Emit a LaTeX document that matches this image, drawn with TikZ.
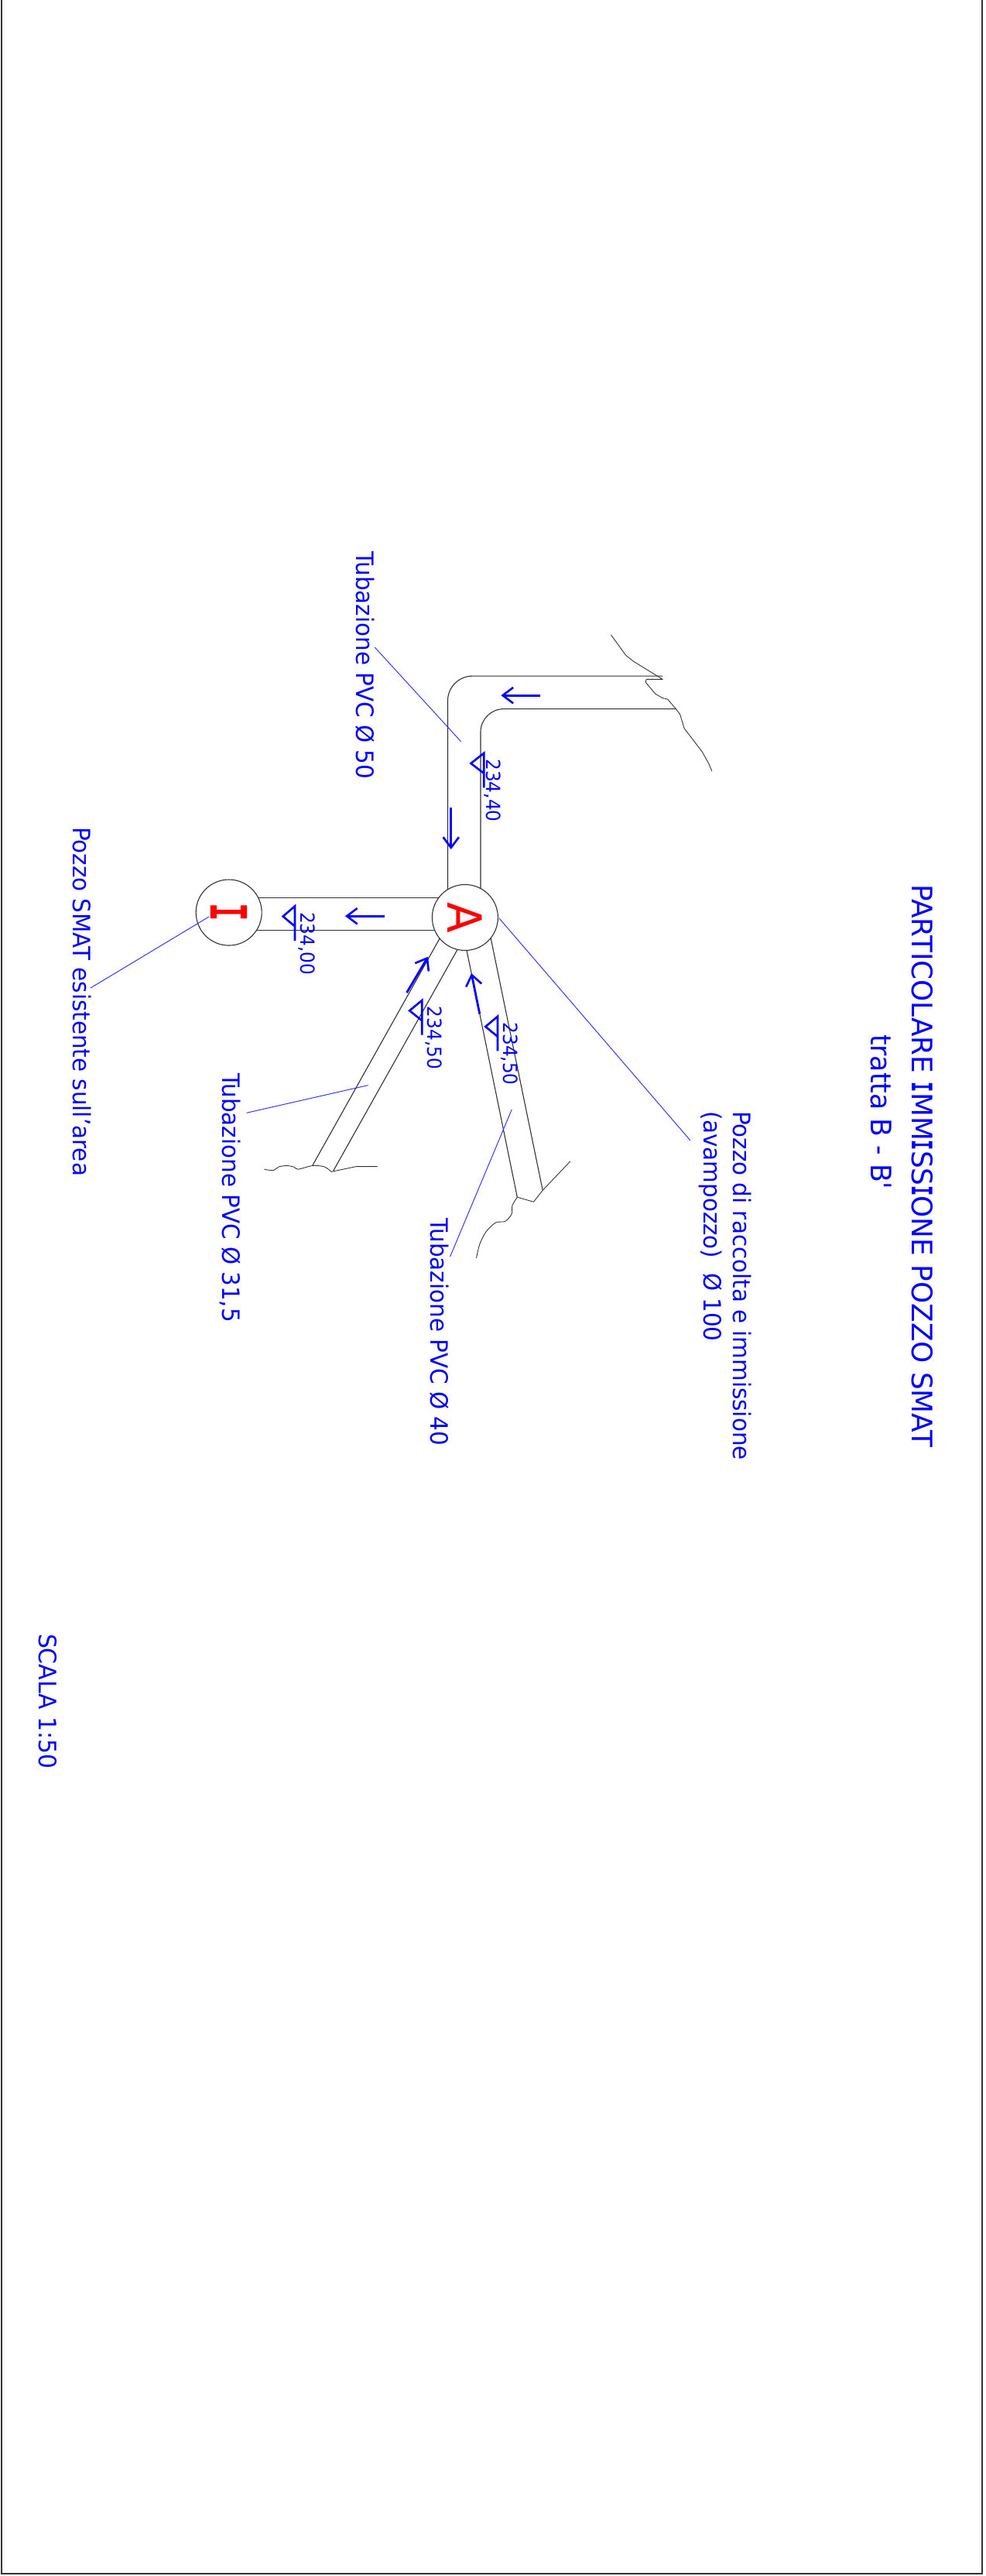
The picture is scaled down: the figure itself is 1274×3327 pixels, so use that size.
\documentclass[tikz,border=0pt]{standalone}
\usepackage{fontspec}
\usetikzlibrary{arrows.meta}
\setmainfont{DejaVu Sans}[FakeStretch=0.95]
\newfontfamily\flvl{DejaVu Sans}[FakeStretch=0.92]
\newfontfamily\ftitle{DejaVu Sans}[FakeStretch=0.98]
\newfontfamily\ftr{DejaVu Sans}[FakeStretch=0.95]
\newfontfamily\fsc{DejaVu Sans}[FakeStretch=0.96]
\newfontfamily\ifont{DejaVu Sans Mono}[FakeStretch=0.6]
\newcommand{\II}{{\ifont\bfseries I}}
\definecolor{pipegray}{HTML}{303030}
\definecolor{leadblue}{HTML}{3030FF}
\tikzset{
  pipe/.style={draw=pipegray,line width=0.62pt,line join=round},
  brk/.style={draw=pipegray,line width=0.5pt,line join=round},
  leader/.style={draw=leadblue,line width=0.55pt},
  flow/.style={draw=blue,line width=1.6pt,-{Straight Barb[length=7.7pt,width=11.6pt,line width=1.5pt]}},
  lvl/.style={draw=blue,line width=1.5pt,line join=miter},
  txt/.style={rotate=-90,anchor=base west,inner sep=0pt,outer sep=0pt,text=blue,font=\fontsize{17.6pt}{22pt}\selectfont},
  lvltxt/.style={txt,font=\flvl\fontsize{14.3pt}{17pt}\selectfont},
  well/.style={circle,draw=pipegray,fill=white,line width=0.62pt,minimum size=48.4pt,inner sep=0pt},
  zone1/.style={shift={(420,680)},x=0.0071429cm,y=-0.0071429cm},
  zone2/.style={shift={(230,1100)},x=0.0071429cm,y=-0.0071429cm}
}
\newcommand{\lvlmark}[6]{% x, ytop, apexx, name, baseline, text
  \draw[lvl] (#1,#2+125) -- (#1,#2) -- (#3,#2+37) -- (#1,#2+73);
  \node[lvltxt] (#4) at (#5,#2+22) {#6};
}
\begin{document}
\begin{tikzpicture}[x=0.02cm,y=-0.02cm]
\useasboundingbox (0,0) rectangle (1274,3327);
\draw[draw=black!80,line width=1.1pt] (2,0) -- (2,3324) -- (1269,3324) -- (1269,0);

% upper pipe
\begin{scope}[zone1]
  \coordinate (p1a) at (444,1320);
  \coordinate (p1b) at (563,1320);
  \draw[pipe,rounded corners=0.64cm] (p1a) -- (444,541) -- (1222,541);
  \draw[pipe,rounded corners=0.6cm] (p1b) -- (563,660) -- (1270,660);
  \draw[brk] (1035,392) -- (1088,465) -- (1115,487) -- (1222,553) -- (1163,553)
    -- (1160,563) -- (1195,605) -- (1220,620) -- (1240,625) -- (1270,660) -- (1285,680)
    -- (1300,730) -- (1365,815) -- (1390,860) -- (1400,885);
  \draw[flow] (780,611) -- (637,611);
  \draw[flow] (456,1017) -- (456,1168);
\end{scope}

% pipes around the wells
\begin{scope}[zone2]
  \draw[pipe] (184,167) -- (1039,167);
  \draw[pipe] (184,285) -- (1039,285);
  \draw[pipe] (951,307) -- (487,1135);
  \draw[pipe] (1016,346) -- (562,1155);
  \draw[pipe] (1043,347) -- (1228,1250);
  \draw[pipe] (1131,307) -- (1320,1225);
  \draw[brk] plot[smooth,tension=0.5] coordinates {(312,1149) (345,1153) (365,1140) (395,1136) (420,1141) (435,1149) (487,1136) (530,1140) (555,1158)};
  \draw[brk] (555,1158) -- (645,1139) -- (722,1139);
  \draw[brk] (1420,1120) -- (1320,1225) -- (1287,1267) -- (1228,1250);
  \draw[brk] plot[smooth,tension=0.5] coordinates {(1228,1250) (1210,1280) (1208,1310) (1185,1337) (1150,1342) (1115,1375) (1092,1420) (1080,1470)};
  \node[well] (wellI) at (184,220) {};
  \node[well] (wellA) at (1039,238) {};
  \draw[flow] (747,233) -- (605,233);
  \draw[flow] (828,510) -- (905,380);
  \draw[flow] (1092,587) -- (1062,440);
  \lvlmark{423}{197}{380}{lvI}{445}{234,00}
  \lvlmark{883}{538}{838}{lvL}{903}{234,50}
  \lvlmark{1157}{596}{1113}{lvR}{1178}{234,50}
\end{scope}
\begin{scope}[zone1]
  \lvlmark{575}{820}{528}{lvT}{585}{234,40}
\end{scope}

% well letters
\node[rotate=-90,text=red,inner sep=0pt,font=\fontsize{34.7pt}{40pt}\selectfont] (letA) at (wellA) {A};
\node[rotate=-90,text=red,inner sep=0pt,font=\fontsize{37pt}{40pt}\selectfont] (letI) at (wellI) {\II};

% leaders
\begin{scope}[zone1]
  \coordinate (c50a) at (180,437);
  \coordinate (c50b) at (492,778);
  \draw[leader] (c50a) -- (c50b);
\end{scope}
\begin{scope}[zone2]
  \coordinate (c31a) at (688,845);
  \coordinate (c31b) at (248,945);
  \coordinate (c40a) at (1208,933);
  \coordinate (c40b) at (985,1465);
  \draw[leader] (c31a) -- (c31b);
  \draw[leader] (c40a) -- (c40b);
\end{scope}
\coordinate (cAe) at (645,1186);
\coordinate (cAl) at (892,1473);
\draw[leader] (cAe) -- (cAl);
\coordinate (cIa) at (270,1184);
\coordinate (cIl) at (117,1276);
\draw[leader] (cIa) -- (cIl);

% labels
\node[txt] (t50) at (460,712) {Tubazione PVC Ø 50};
\node[txt] (t31) at (287,1386) {Tubazione PVC Ø 31,5};
\node[txt] (t40) at (556,1573) {Tubazione PVC Ø 40};
\node[txt] (tsmat) at (94,1068) {Pozzo SMAT esistente sull'area};
\node[txt] (trac) at (947,1435) {Pozzo di raccolta e immissione};
\node[txt] (tava) at (909,1435) {(avampozzo)\ \ Ø 100};
\node[txt,font=\ftitle\fontsize{20.8pt}{25pt}\selectfont] (ttit) at (1178,1142) {PARTICOLARE \II MM\II SS\II ONE POZZO SMAT};
\node[txt,font=\ftr\fontsize{20.8pt}{25pt}\selectfont] (ttr) at (1125,1336) {tratta B - B'};
\node[txt,font=\fsc\fontsize{17.7pt}{21pt}\selectfont] (tsc) at (51,2110) {SCALA 1:50};
\end{tikzpicture}
\end{document}
